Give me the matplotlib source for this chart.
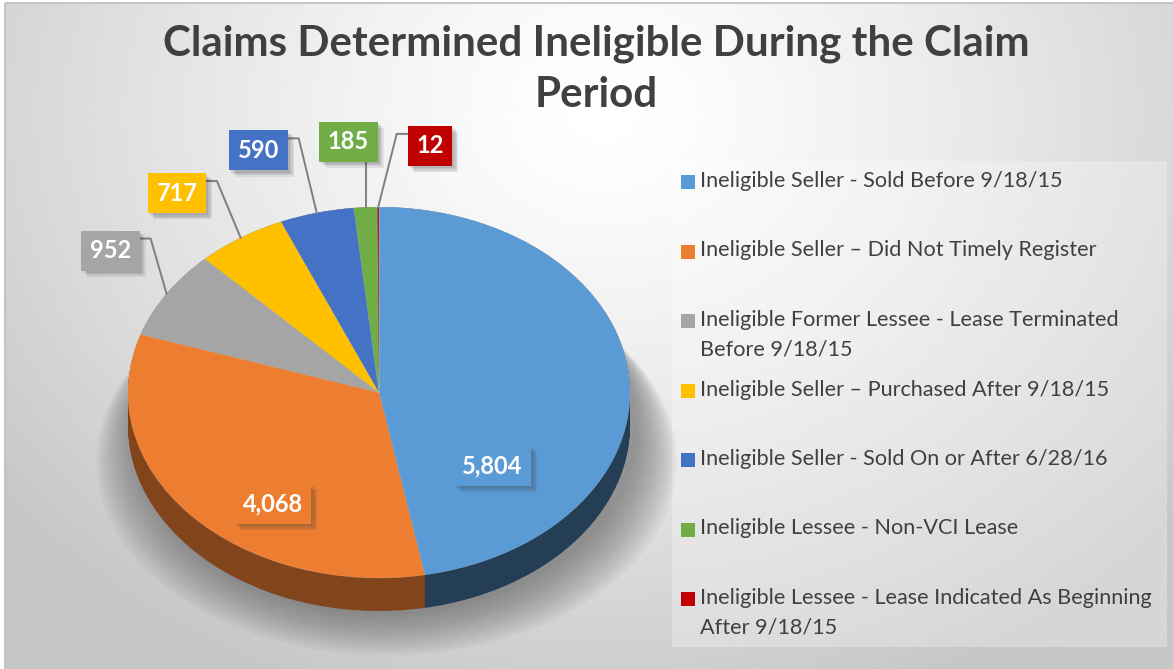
import matplotlib
matplotlib.use('Agg')

import matplotlib.pyplot as plt
import matplotlib.patheffects as pe
from matplotlib.patches import Rectangle, Ellipse
import matplotlib.colors as mcolors
import numpy as np

# ---- data ----
categories = [
  'Ineligible Seller - Sold Before 9/18/15',
  'Ineligible Seller \u2013 Did Not Timely Register',
  'Ineligible Former Lessee - Lease Terminated\nBefore 9/18/15',
  'Ineligible Seller \u2013 Purchased After 9/18/15',
  'Ineligible Seller - Sold On or After 6/28/16',
  'Ineligible Lessee - Non-VCI Lease',
  'Ineligible Lessee - Lease Indicated As Beginning\nAfter 9/18/15',
]
counts = [5804, 4068, 952, 717, 590, 185, 12]
value_labels = ['5,804', '4,068', '952', '717', '590', '185', '12']
colors = ['#5b9bd5', '#ed7d31', '#a5a5a5', '#ffc000', '#4472c4', '#70ad47', '#c00000']
title = 'Claims Determined Ineligible During the Claim\nPeriod'

# ---- layout ----
W, H = 1173, 669
FONT = 'Lato'
TXT = '#404040'
# label box centres in pie data units, and where the leader attaches
label_pos = [(0.452, -0.396), (-0.424, -0.601), (-1.070, 0.765), (-0.805, 1.075),
             (-0.480, 1.305), (-0.122, 1.353), (0.203, 1.329)]
leader_side = [None, None, 'right', 'right', 'right', 'bottom', 'left']


def shade(c, f):
  r, g, b = mcolors.to_rgb(c)
  return (r * f, g * f, b * f)


fig = plt.figure(figsize=(W / 100, H / 100), dpi=100)

# background: soft radial gradient
bg = fig.add_axes([0, 0, 1, 1])
bg.set_xlim(0, W)
bg.set_ylim(H, 0)
bg.axis('off')
yy, xx = np.mgrid[0:H, 0:W]
dist = np.hypot((xx - 600) / 760.0, (yy - 110) / 620.0)
img = 1.0 - 0.22 * np.clip(dist, 0, 1) ** 1.3
bg.imshow(img, cmap='gray', vmin=0, vmax=1, extent=(5, W, H, 3), aspect='auto', zorder=0)
bg.add_patch(Rectangle((5, 3), W - 4, H, fill=False, ec='#bdbdbd', lw=1.2, zorder=1))
# legend panel
bg.add_patch(Rectangle((672, 161), 495, 486, fc='white', alpha=0.28, ec='none', zorder=1))

# title
for j, line in enumerate(title.split('\n')):
  fig.text(596 / W, 1 - (44 + 51 * j) / H, line, ha='center', va='center',
           fontsize=30.3, fontweight='bold', color=TXT, family=FONT)

# ---- pie ----
depth = 33 / 185.5
ax = fig.add_axes([128 / W, (H - 611) / H, 502 / W, 404 / H])

# shadow under the pie, spreading sideways and downward only
for i in range(14):
  e = 0.012 * i
  ax.add_patch(Ellipse((0.03, -depth - 0.02 - 1.1 * e), 2 * (1 + e), 2 * (1 + 0.3 * e),
                       fc='#505050', alpha=0.05, ec='none', zorder=0, clip_on=False))

side_colors = [shade(c, 0.40) for c in colors]
side_colors[1] = shade(colors[1], 0.55)
n_layers = 34
for k in range(n_layers):
  off = -depth * (1 - k / (n_layers - 1))
  ax.pie(counts, colors=side_colors, startangle=90, counterclock=False,
         center=(0, off), wedgeprops=dict(linewidth=0))
ax.pie(counts, colors=colors, startangle=90, counterclock=False,
       wedgeprops=dict(linewidth=0.4, edgecolor=(1, 1, 1, 0.25)))
ax.set_aspect('auto')
ax.set_xlim(-1, 1)
ax.set_ylim(-1 - depth, 1)
ax.axis('off')

# data labels
total = float(sum(counts))
cum = np.cumsum([0] + counts)
mids = 90 - 360 * (cum[:-1] + np.array(counts) / 2) / total
soft_shadow = [pe.SimplePatchShadow(offset=(o, -o), shadow_rgbFace='#404040', alpha=0.10)
               for o in (4.5, 3.5, 2.5, 1.5)] + [pe.Normal()]
texts = []
for i, lab in enumerate(value_labels):
  t = ax.text(label_pos[i][0], label_pos[i][1], lab, ha='center', va='center',
              fontsize=17, fontweight='bold', color='white', family=FONT, zorder=10,
              clip_on=False,
              bbox=dict(boxstyle='square,pad=0.36', fc=colors[i], ec='none'))
  t.get_bbox_patch().set_path_effects(soft_shadow)
  texts.append(t)

fig.canvas.draw()
inv = ax.transData.inverted()
px_x = 2.0 / 502
for i, t in enumerate(texts):
  side = leader_side[i]
  if side is None:
    continue
  bb = t.get_bbox_patch().get_window_extent()
  (x0, y0), (x1, y1) = inv.transform([[bb.x0, bb.y0], [bb.x1, bb.y1]])
  th = np.deg2rad(mids[i])
  ex, ey = np.cos(th), np.sin(th)
  ya = label_pos[i][1] + 0.065
  if side == 'right':
    pts = [(x1, ya), (x1 + 11 * px_x, ya), (ex, ey)]
  elif side == 'left':
    pts = [(x0, ya), (x0 - 11 * px_x, ya), (ex, ey)]
  else:
    pts = [(ex, y0), (ex, ey)]
  xs, ys = zip(*pts)
  ax.plot(xs, ys, color='#7f7f7f', lw=1.4, zorder=5, clip_on=False)

# ---- legend ----
row0, pitch, line_h = 181, 69.5, 30
for i, cat in enumerate(categories):
  yc = row0 + pitch * i
  bg.add_patch(Rectangle((681, yc - 6), 14, 14, fc=colors[i], ec='none', zorder=3))
  for j, line in enumerate(cat.split('\n')):
    bg.text(700, yc + line_h * j, line, ha='left', va='center', fontsize=15.6,
            color=TXT, family=FONT, zorder=3)

fig.savefig('out.png', dpi=100)
